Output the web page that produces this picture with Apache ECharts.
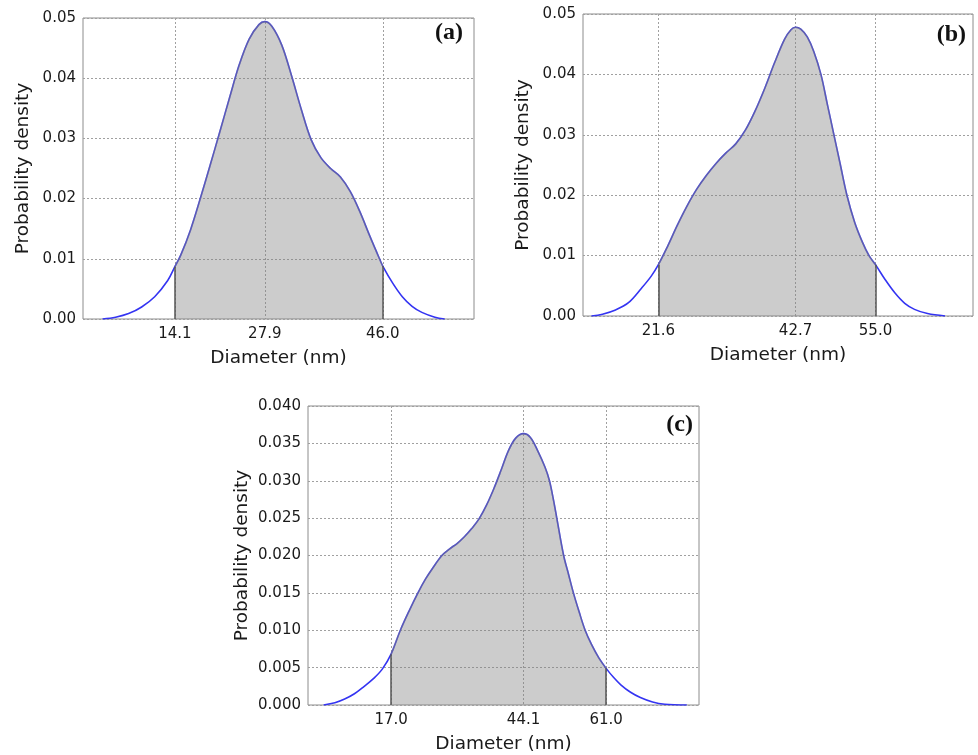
<!DOCTYPE html>
<html>
<head>
<meta charset="utf-8">
<script src="https://cdn.jsdelivr.net/npm/echarts@6/dist/echarts.min.js"></script>
<style>
html,body{margin:0;padding:0;background:#fff;}
#chart{width:978px;height:755px;}
</style>
</head>
<body>
<div id="chart"></div>
<script>
// Panel (a)
var aX = [3.0, 5.0, 7.0, 9.0, 11.0, 13.0, 14.1, 15.0, 16.5, 18.0, 19.5, 21.0, 22.5, 24.0, 25.5, 27.0, 27.9, 29.0, 30.5, 32.0, 33.5, 35.0, 36.5, 38.0, 39.5, 41.0, 42.5, 44.0, 45.5, 46.0, 47.5, 49.0, 50.5, 52.0, 54.0, 55.5];
var aY = [0, 0.0003, 0.0009, 0.0020, 0.0037, 0.0064, 0.0087, 0.0106, 0.0148, 0.0200, 0.0255, 0.0311, 0.0368, 0.0423, 0.0465, 0.0489, 0.0494, 0.0486, 0.0455, 0.0404, 0.0348, 0.0298, 0.0268, 0.0250, 0.0236, 0.0212, 0.0178, 0.0138, 0.0100, 0.0088, 0.0060, 0.0037, 0.0021, 0.0011, 0.0003, 0];
var aTicks = [14.1, 27.9, 46.0];
var aRange = [0, 60];
var aYTicks = [0, 0.01, 0.02, 0.03, 0.04, 0.05];

// Panel (b)
var bX = [11.3, 13.0, 15.0, 17.0, 19.0, 20.5, 21.6, 23.0, 24.5, 26.0, 27.5, 29.0, 30.5, 32.0, 33.5, 35.0, 36.5, 38.0, 39.5, 41.0, 42.0, 42.7, 43.5, 44.5, 45.5, 46.6, 47.6, 48.6, 49.6, 50.6, 51.8, 53.0, 54.0, 55.0, 56.5, 58.0, 59.5, 61.0, 63.0, 65.7];
var bY = [0, 0.0003, 0.0010, 0.0022, 0.0046, 0.0066, 0.0085, 0.0115, 0.0150, 0.0182, 0.0210, 0.0233, 0.0253, 0.0270, 0.0285, 0.0308, 0.0340, 0.0378, 0.0420, 0.0458, 0.0474, 0.0478, 0.0475, 0.0462, 0.0438, 0.0400, 0.0350, 0.0300, 0.0250, 0.0200, 0.0155, 0.0122, 0.0100, 0.0085, 0.0060, 0.0038, 0.0021, 0.0011, 0.0004, 0];
var bTicks = [21.6, 42.7, 55.0];
var bRange = [10, 70];
var bYTicks = [0, 0.01, 0.02, 0.03, 0.04, 0.05];

// Panel (c)
var cX = [3.2, 5.5, 7.5, 9.5, 11.5, 13.5, 15.2, 17.0, 18.9, 20.7, 22.5, 24.0, 25.5, 27.4, 29.0, 30.5, 32.0, 33.5, 35.0, 36.5, 38.0, 39.5, 41.0, 42.5, 44.1, 45.5, 47.0, 48.5, 49.4, 50.2, 50.9, 52.3, 53.3, 54.3, 55.5, 56.7, 58.0, 59.5, 61.0, 62.5, 64.0, 66.0, 68.0, 70.5, 73.0, 77.5];
var cY = [0, 0.0003, 0.0008, 0.0015, 0.0025, 0.0036, 0.0048, 0.0068, 0.0100, 0.0126, 0.0150, 0.0168, 0.0183, 0.0200, 0.0209, 0.0216, 0.0225, 0.0236, 0.0249, 0.0267, 0.0289, 0.0314, 0.0340, 0.0357, 0.0363, 0.0358, 0.0340, 0.0318, 0.0300, 0.0275, 0.0250, 0.0200, 0.0175, 0.0150, 0.0124, 0.0100, 0.0081, 0.0063, 0.0049, 0.0037, 0.0027, 0.0017, 0.0010, 0.0004, 0.0001, 0];
var cTicks = [17.0, 44.1, 61.0];
var cRange = [0, 80];
var cYTicks = [0, 0.005, 0.010, 0.015, 0.020, 0.025, 0.030, 0.035, 0.040];

var panelLabels = ['(a)', '(b)', '(c)'];
var xTitle = 'Diameter (nm)';
var yTitle = 'Probability density';

var FONT = 'DejaVu Sans';
var chart = echarts.init(document.getElementById('chart'), null, {renderer: 'canvas'});

var panels = [
  {x: aX, y: aY, ticks: aTicks, range: aRange, yTicks: aYTicks, dec: 2,
   grid: {left: 83, top: 18, width: 391, height: 301}, yGap: 50,
   title: {right: 515, top: 21}},
  {x: bX, y: bY, ticks: bTicks, range: bRange, yTicks: bYTicks, dec: 2,
   grid: {left: 583, top: 14, width: 390, height: 302}, yGap: 50,
   title: {right: 12, top: 23}},
  {x: cX, y: cY, ticks: cTicks, range: cRange, yTicks: cYTicks, dec: 3,
   grid: {left: 308, top: 406, width: 391, height: 302}, yGap: 56,
   title: {right: 285, top: 413}}
];

var grids = [], xAxes = [], yAxes = [], series = [], titles = [];
var gridLine = {show: true, lineStyle: {color: '#a0a0a0', width: 1, type: [2, 2]}};

panels.forEach(function (p, i) {
  grids.push(Object.assign({show: true, borderColor: '#8c8c8c', borderWidth: 1, backgroundColor: 'transparent'}, p.grid));
  xAxes.push({
    type: 'value', gridIndex: i, min: p.range[0], max: p.range[1],
    name: xTitle, nameLocation: 'middle', nameGap: 30,
    nameTextStyle: {fontFamily: FONT, fontSize: 18.5, color: '#1a1a1a'},
    axisLine: {show: false},
    axisTick: {show: false, customValues: p.ticks},
    axisLabel: {customValues: p.ticks, margin: 8, fontFamily: FONT, fontSize: 15, color: '#1a1a1a',
      formatter: function (v) { return v.toFixed(1); }},
    splitLine: gridLine
  });
  var yStep = p.yTicks[1] - p.yTicks[0];
  yAxes.push({
    type: 'value', gridIndex: i, min: p.yTicks[0], max: p.yTicks[p.yTicks.length - 1], interval: yStep,
    name: yTitle, nameLocation: 'middle', nameGap: p.yGap,
    nameTextStyle: {fontFamily: FONT, fontSize: 18.5, color: '#1a1a1a'},
    axisLine: {show: false},
    axisTick: {show: false},
    axisLabel: {margin: 7, fontFamily: FONT, fontSize: 15, color: '#1a1a1a',
      formatter: function (v) { return v.toFixed(p.dec); }},
    splitLine: gridLine
  });
  var full = p.x.map(function (xv, k) { return [xv, p.y[k]]; });
  var lo = p.ticks[0], hi = p.ticks[p.ticks.length - 1];
  var sub = full.filter(function (d) { return d[0] >= lo - 1e-9 && d[0] <= hi + 1e-9; });
  var loPt = sub[0], hiPt = sub[sub.length - 1];
  series.push({
    type: 'line', xAxisIndex: i, yAxisIndex: i, data: full, smooth: 0.35,
    showSymbol: false, silent: true, z: 2,
    lineStyle: {color: '#3434f2', width: 1.6}
  });
  series.push({
    type: 'line', xAxisIndex: i, yAxisIndex: i, data: sub, smooth: 0.35,
    showSymbol: false, silent: true, z: 3,
    lineStyle: {color: 'rgba(128,128,128,0.4)', width: 1.6},
    areaStyle: {color: 'rgba(128,128,128,0.4)', opacity: 1, origin: 'start'},
    markLine: {
      silent: true, symbol: 'none', label: {show: false},
      lineStyle: {color: '#555555', width: 1.5, type: 'solid'},
      data: [
        [{coord: [loPt[0], 0]}, {coord: [loPt[0], loPt[1]]}],
        [{coord: [hiPt[0], 0]}, {coord: [hiPt[0], hiPt[1]]}]
      ]
    }
  });
  titles.push(Object.assign({
    text: panelLabels[i], padding: 0,
    textStyle: {fontFamily: 'Liberation Serif', fontWeight: 'bold', fontSize: 24, color: '#111'}
  }, p.title));
});

chart.setOption({
  animation: false,
  backgroundColor: '#ffffff',
  title: titles,
  grid: grids,
  xAxis: xAxes,
  yAxis: yAxes,
  series: series
});
</script>
</body>
</html>
